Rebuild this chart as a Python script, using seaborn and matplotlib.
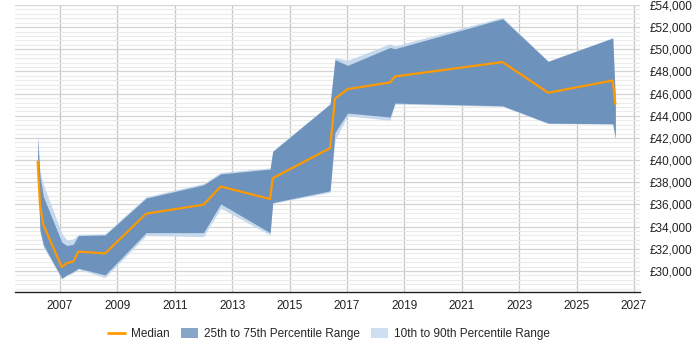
import matplotlib
matplotlib.use("Agg")
import matplotlib.pyplot as plt
import seaborn as sns
import pandas as pd
from matplotlib.patches import Patch
from matplotlib.lines import Line2D
from matplotlib.ticker import MultipleLocator, FuncFormatter

# values (year as decimal)
years = [2006.22, 2006.30, 2006.42, 2007.06, 2007.23, 2007.46, 2007.64, 2008.57, 2010.0, 2012.0, 2012.6,
         2014.32, 2014.41, 2016.41, 2016.58, 2017.02, 2018.5, 2018.67, 2022.42, 2024.01, 2026.26, 2026.35]
median = [39870, 35960, 34150, 30350, 30700, 30850, 31750, 31580, 35170, 35980, 37620,
          36490, 38370, 41080, 45540, 46410, 47010, 47550, 48850, 46080, 47190, 45050]
p75 = [42000, 38500, 36700, 32600, 32300, 32400, 33200, 33250, 36570, 37770, 38760,
       39190, 40780, 45060, 49060, 48550, 50170, 50050, 52760, 48910, 51020, 45500]
p90 = [42300, 39000, 37800, 33400, 32800, 32900, 33300, 33350, 36700, 37900, 38900,
       39300, 40850, 45100, 49250, 49000, 50500, 50300, 52900, 48950, 51050, 45600]
p25 = [39000, 33700, 32350, 29340, 29640, 29940, 30240, 29640, 33460, 33460, 36050,
       33450, 36170, 37230, 42500, 44250, 43890, 45150, 44900, 43340, 43280, 42000]
p10 = [38800, 33500, 32150, 29300, 29550, 29850, 30150, 29400, 33190, 33100, 35660,
       33250, 36100, 37100, 41800, 44000, 43600, 45050, 44850, 43300, 43250, 41800]

df = pd.DataFrame({"year": years, "median": median, "p10": p10, "p25": p25, "p75": p75, "p90": p90})

sns.set_style("white")
plt.rcParams['font.family'] = ['Liberation Sans', 'DejaVu Sans']

fig = plt.figure(figsize=(7, 3.5), dpi=100)
ax = fig.add_axes([15 / 700, 1 - 292 / 350, 625 / 700, 287 / 350])

ax.fill_between(df["year"], df["p10"], df["p90"], color="#c6d9ec", lw=0, zorder=2)
ax.fill_between(df["year"], df["p25"], df["p75"], color="#6d92bb", lw=0, zorder=3)
sns.lineplot(data=df, x="year", y="median", color="#ff9900", lw=1.6, ax=ax, zorder=4)

ax.set_xlim(2005.43, 2027.21)
ax.set_ylim(28100, 54000)

ax.set_xticks(range(2007, 2028, 2))
ax.xaxis.set_major_formatter(FuncFormatter(lambda v, p: f"{int(round(v))}"))
ax.yaxis.set_minor_locator(MultipleLocator(400))
ax.yaxis.set_major_formatter(FuncFormatter(lambda v, p: f"£{int(v):,}"))
ax.yaxis.tick_right()
ax.set_yticks(range(30000, 54001, 2000))

ax.grid(axis="x", which="major", color="#c4c4c4", lw=0.9, zorder=0)
ax.grid(axis="y", which="major", color="#d4d4d4", lw=0.9, zorder=0)
ax.grid(axis="y", which="minor", color="#ebebeb", lw=0.8, zorder=0)
ax.set_axisbelow(True)

ax.tick_params(axis="both", which="both", length=0, labelsize=8.5, colors="#222222")
ax.tick_params(axis="y", pad=7)
ax.tick_params(axis="x", pad=6)
for s in ["top", "left", "right"]:
    ax.spines[s].set_visible(False)
ax.spines["bottom"].set_color("#222222")
ax.spines["bottom"].set_linewidth(1)
ax.set_xlabel("")
ax.set_ylabel("")

handles = [
    Line2D([0], [0], color="#ff9900", lw=2),
    Patch(facecolor="#87a5c7", edgecolor="none"),
    Patch(facecolor="#cddff0", edgecolor="none"),
]
labels = ["Median", "25th to 75th Percentile Range", "10th to 90th Percentile Range"]
fig.legend(handles, labels, loc="center", bbox_to_anchor=(0.470, 1 - 334 / 350), ncol=3,
           frameon=False, fontsize=8.5, handlelength=1.5, handleheight=1.0, columnspacing=0.9,
           handletextpad=0.5)

fig.savefig("out.png", dpi=100)
